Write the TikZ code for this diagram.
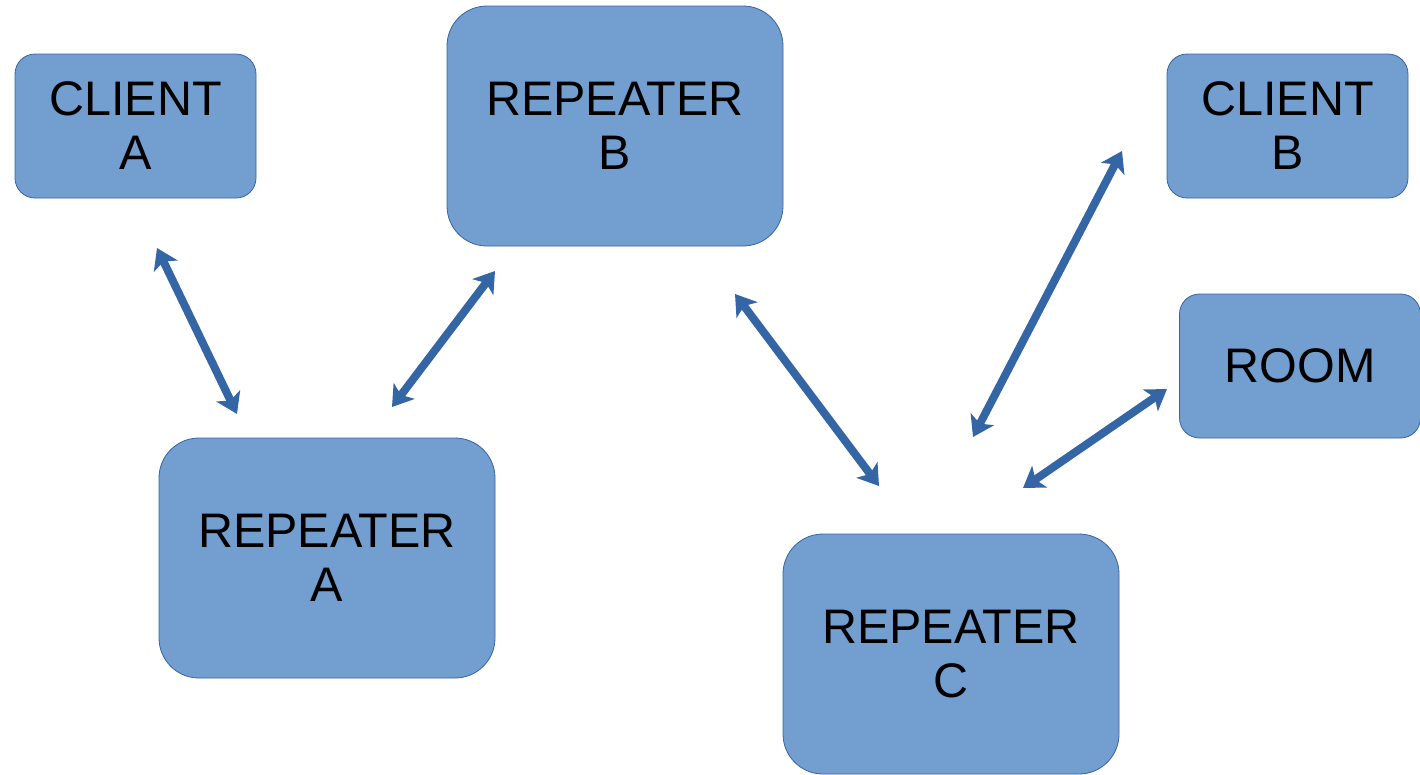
\documentclass[tikz,border=0pt]{standalone}
\usepackage{fontspec}
\setmainfont{Liberation Sans}
\usetikzlibrary{arrows.meta}
\definecolor{boxfill}{HTML}{729FCF}
\definecolor{boxline}{HTML}{3465A4}
\begin{document}
\begin{tikzpicture}[x=1pt,y=-1pt,
  box/.style={draw=boxline,line width=0.8pt,fill=boxfill,align=center,
    font=\fontsize{48.5}{54}\selectfont,inner sep=0pt},
  small/.style={box,minimum width=241pt,minimum height=144pt,rounded corners=20pt},
  big/.style={box,minimum width=336pt,minimum height=240pt,rounded corners=40pt},
  link/.style={draw=boxline,line width=8pt,
    {Stealth[length=20pt,width=26pt,inset=5pt]}-{Stealth[length=20pt,width=26pt,inset=5pt]}}]
\useasboundingbox (0,0) rectangle (1420,774);

\node[small] (clientA) at (135.5,126) {CLIENT\\A};
\node[big]   (repB)    at (615,126)   {REPEATER\\B};
\node[small] (clientB) at (1287.5,126) {CLIENT\\B};
\node[small] (room)    at (1300,366)  {ROOM};
\node[big]   (repA)    at (327,558)   {REPEATER\\A};
\node[big]   (repC)    at (951,654)   {REPEATER\\C};

% arrow end points in the gaps between the boxes
\coordinate (caL) at (157,248);
\coordinate (raU) at (237,414);
\coordinate (raR) at (392,407);
\coordinate (rbL) at (495,271);
\coordinate (rbR) at (735,294);
\coordinate (rcL) at (879,486);
\coordinate (cbL) at (1122,151);
\coordinate (rcU) at (973,437);
\coordinate (roL) at (1167,389);
\coordinate (rcR) at (1023,488);

\draw[link] (caL) -- (raU);
\draw[link] (raR) -- (rbL);
\draw[link] (rbR) -- (rcL);
\draw[link] (cbL) -- (rcU);
\draw[link] (roL) -- (rcR);
\end{tikzpicture}
\end{document}
